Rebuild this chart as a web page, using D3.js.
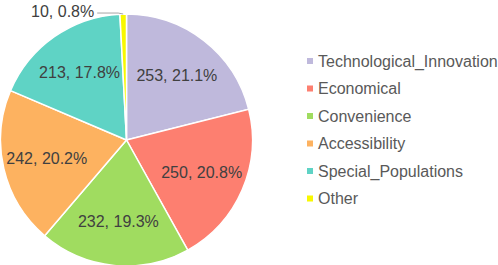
<!DOCTYPE html>
<html>
<head>
<meta charset="utf-8">
<script src="https://cdn.jsdelivr.net/npm/d3@7"></script>
<style>
  body { margin: 0; background: #fff; }
  text { font-family: "Liberation Sans", Arial, sans-serif; }
</style>
</head>
<body>
<svg id="chart"></svg>
<script>
const categories = ['Technological_Innovation', 'Economical', 'Convenience', 'Accessibility', 'Special_Populations', 'Other'];
const values = [253, 250, 232, 242, 213, 10];
const percents = ['21.1%', '20.8%', '19.3%', '20.2%', '17.8%', '0.8%'];
const colors = ['#bfb9dc', '#fd7f70', '#a0dc60', '#fdb260', '#5fd3c5', '#f8f800'];

const width = 498, height = 265;
const cx = 126.5, cy = 140, radius = 126;

const svg = d3.select('#chart')
    .attr('width', width)
    .attr('height', height);

const data = categories.map((c, i) => ({ name: c, value: values[i], pct: percents[i], color: colors[i] }));

const pie = d3.pie()
    .value(d => d.value)
    .sort(null);

const arcs = pie(data);

const arc = d3.arc()
    .innerRadius(0)
    .outerRadius(radius);

const labelArc = d3.arc()
    .innerRadius(radius * 0.65)
    .outerRadius(radius * 0.65);

const chart = svg.append('g')
    .attr('transform', `translate(${cx},${cy})`);

chart.selectAll('path')
    .data(arcs)
    .join('path')
    .attr('d', arc)
    .attr('fill', d => d.data.color)
    .attr('stroke', '#fff')
    .attr('stroke-width', 1.5);

// inside labels for the big slices
const total = d3.sum(values);
const big = arcs.filter(d => d.data.value / total > 0.05);
const small = arcs.filter(d => d.data.value / total <= 0.05);

chart.selectAll('text.inner')
    .data(big)
    .join('text')
    .attr('class', 'inner')
    .attr('transform', d => `translate(${labelArc.centroid(d)})`)
    .attr('text-anchor', 'middle')
    .attr('dy', '0.35em')
    .attr('font-size', 16)
    .attr('fill', '#404040')
    .text(d => `${d.data.value}, ${d.data.pct}`);

// outside label with leader line
small.forEach(d => {
    const mid = (d.startAngle + d.endAngle) / 2;
    const p0 = [Math.sin(mid) * radius, -Math.cos(mid) * radius];
    const p1 = [p0[0] - 5, p0[1] - 1];
    const p2 = [p0[0] - 26, p0[1] - 1];
    chart.append('polyline')
        .attr('points', [p0, p1, p2].map(p => p.join(',')).join(' '))
        .attr('fill', 'none')
        .attr('stroke', '#a6a6a6')
        .attr('stroke-width', 1);
    chart.append('text')
        .attr('x', p2[0] - 3)
        .attr('y', p2[1])
        .attr('dy', '0.22em')
        .attr('text-anchor', 'end')
        .attr('font-size', 16)
        .attr('fill', '#404040')
        .text(`${d.data.value}, ${d.data.pct}`);
});

// legend
const legend = svg.append('g')
    .attr('transform', 'translate(307,61)');

const rowY = d3.scalePoint()
    .domain(categories)
    .range([0, 137.5]);

const item = legend.selectAll('g')
    .data(data)
    .join('g')
    .attr('transform', d => `translate(0,${rowY(d.name)})`);

item.append('rect')
    .attr('x', 0)
    .attr('y', -3)
    .attr('width', 6)
    .attr('height', 6)
    .attr('fill', d => d.color);

item.append('text')
    .attr('x', 11)
    .attr('dy', '0.35em')
    .attr('font-size', 16)
    .attr('fill', '#595959')
    .text(d => d.name);
</script>
</body>
</html>
